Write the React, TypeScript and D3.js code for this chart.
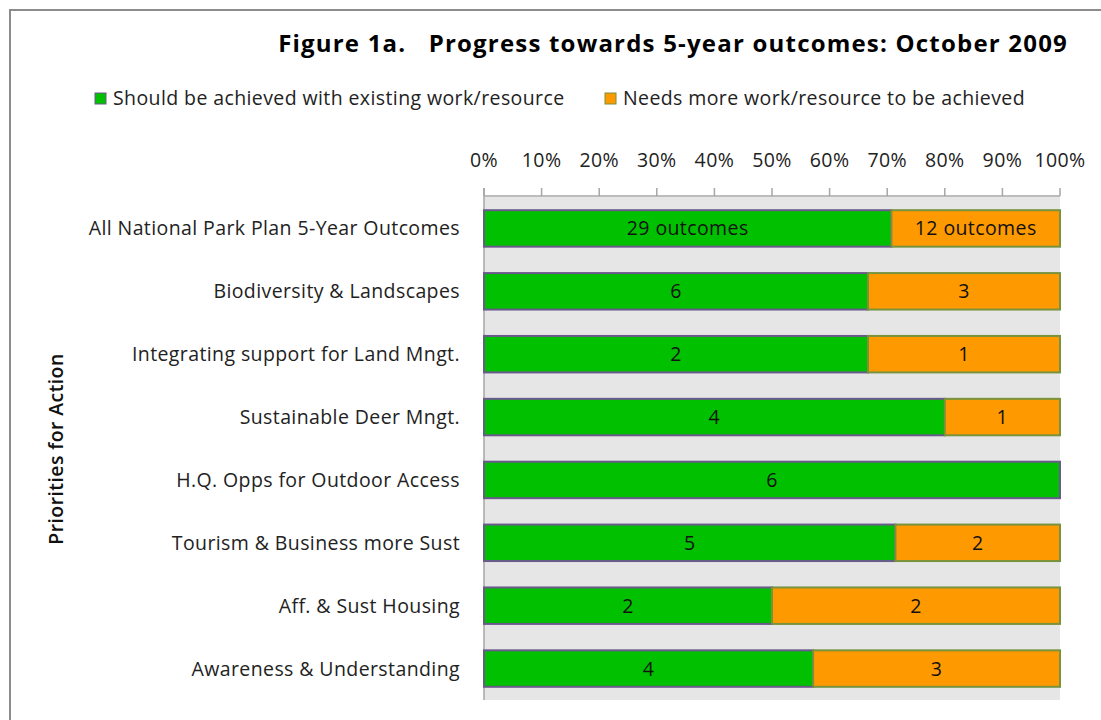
import React from "react";
import * as d3 from "d3";

const categories = [
  "All National Park Plan 5-Year Outcomes",
  "Biodiversity & Landscapes",
  "Integrating support for Land Mngt.",
  "Sustainable Deer Mngt.",
  "H.Q. Opps for Outdoor Access",
  "Tourism & Business more Sust",
  "Aff. & Sust Housing",
  "Awareness & Understanding",
];
const achieved = [29, 6, 2, 4, 6, 5, 2, 4];
const needsMore = [12, 3, 1, 1, 0, 2, 2, 3];
const achievedLabels = ["29 outcomes", "6", "2", "4", "6", "5", "2", "4"];
const needsMoreLabels = ["12 outcomes", "3", "1", "1", "", "2", "2", "3"];
const tickValues = [0, 0.1, 0.2, 0.3, 0.4, 0.5, 0.6, 0.7, 0.8, 0.9, 1];
const seriesNames = [
  "Should be achieved with existing work/resource",
  "Needs more work/resource to be achieved",
];
const titleText = "Figure 1a.   Progress towards 5-year outcomes: October 2009";
const yAxisTitle = "Priorities for Action";

const W = 1101;
const H = 720;
const plot = { left: 484, right: 1060, top: 197, bottom: 700 };
const GREEN = "#00c000";
const ORANGE = "#ff9900";
const GREEN_STROKE = "#6a5a8c";
const ORANGE_STROKE = "#77933c";
const FONT = "'Open Sans', sans-serif";
const FS = 19.5;
const LS = 0.4;

export default function App() {
  const x = d3.scaleLinear().domain([0, 1]).range([plot.left, plot.right]);
  const y = d3
    .scaleBand<string>()
    .domain(categories)
    .range([plot.top, plot.bottom])
    .paddingInner(0.42)
    .paddingOuter(0.21);
  const fmt = d3.format(".0%");

  return (
    <svg
      width={W}
      height={H}
      style={{ position: "absolute", left: 0, top: 0, background: "#fff" }}
    >
      <rect x={10} y={10} width={W + 20} height={H + 20} fill="#fff" stroke="#8c8c8c" strokeWidth={2} />
      <text
        x={1068}
        y={52}
        textAnchor="end"
        fontFamily={FONT}
        fontWeight="bold"
        fontSize={24}
        letterSpacing={1.2}
        fill="#000"
        style={{ whiteSpace: "pre" }}
      >
        {titleText}
      </text>
      {/* legend */}
      {seriesNames.map((name, i) => {
        const lx = i === 0 ? 95 : 605;
        return (
          <g key={name}>
            <rect
              x={lx}
              y={93}
              width={11}
              height={11}
              fill={i === 0 ? GREEN : ORANGE}
              stroke={i === 0 ? GREEN_STROKE : ORANGE_STROKE}
              strokeWidth={1}
            />
            <text x={lx + 18} y={105} fontFamily={FONT} fontSize={FS} letterSpacing={LS} fill="#222">
              {name}
            </text>
          </g>
        );
      })}
      {/* plot background */}
      <rect
        x={plot.left}
        y={plot.top}
        width={plot.right - plot.left}
        height={plot.bottom - plot.top}
        fill="#e6e6e6"
      />
      {/* top axis */}
      <line x1={plot.left} x2={plot.right} y1={196} y2={196} stroke="#a6a6a6" strokeWidth={1.5} />
      {tickValues.map((t) => (
        <g key={t}>
          <line x1={x(t)} x2={x(t)} y1={188} y2={196} stroke="#a6a6a6" strokeWidth={1.5} />
          <text
            x={x(t)}
            y={167}
            textAnchor="middle"
            fontFamily={FONT}
            fontSize={FS}
            letterSpacing={LS}
            fill="#222"
          >
            {fmt(t)}
          </text>
        </g>
      ))}
      <line x1={plot.left} x2={plot.left} y1={188} y2={plot.bottom} stroke="#a6a6a6" strokeWidth={1.5} />
      {/* bars */}
      {categories.map((c, i) => {
        const total = achieved[i] + needsMore[i];
        const p = achieved[i] / total;
        const by = y(c)!;
        const bh = y.bandwidth();
        const cy = by + bh / 2;
        return (
          <g key={c}>
            <text
              x={460}
              y={cy + 7}
              textAnchor="end"
              fontFamily={FONT}
              fontSize={FS}
              letterSpacing={LS}
              fill="#222"
            >
              {c}
            </text>
            <rect x={x(0)} y={by} width={x(p) - x(0)} height={bh} fill={GREEN} stroke={GREEN_STROKE} strokeWidth={2} />
            {needsMore[i] > 0 && (
              <rect x={x(p)} y={by} width={x(1) - x(p)} height={bh} fill={ORANGE} stroke={ORANGE_STROKE} strokeWidth={2} />
            )}
            <text
              x={(x(0) + x(p)) / 2}
              y={cy + 7}
              textAnchor="middle"
              fontFamily={FONT}
              fontSize={FS}
              letterSpacing={LS}
              fill="#111"
            >
              {achievedLabels[i]}
            </text>
            {needsMore[i] > 0 && (
              <text
                x={(x(p) + x(1)) / 2}
                y={cy + 7}
                textAnchor="middle"
                fontFamily={FONT}
                fontSize={FS}
                letterSpacing={LS}
                fill="#111"
              >
                {needsMoreLabels[i]}
              </text>
            )}
          </g>
        );
      })}
      <text
        transform={`translate(63,${449}) rotate(-90)`}
        textAnchor="middle"
        fontFamily={FONT}
        fontWeight={600}
        fontSize={FS}
        letterSpacing={LS}
        fill="#111"
      >
        {yAxisTitle}
      </text>
    </svg>
  );
}
